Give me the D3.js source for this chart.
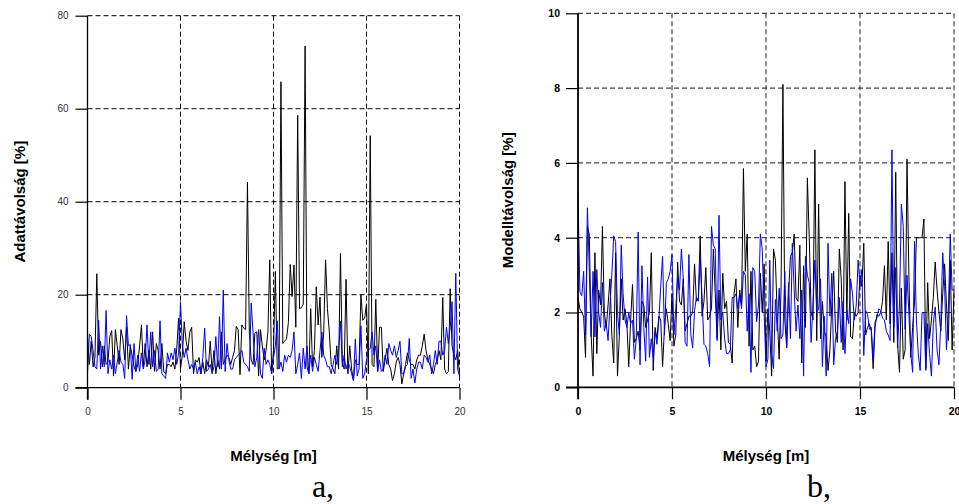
<!DOCTYPE html>
<html>
<head>
<meta charset="utf-8">
<script src="https://cdn.jsdelivr.net/npm/d3@7"></script>
<style>
  html, body { margin: 0; padding: 0; background: #fff; }
  svg { display: block; font-family: "Liberation Sans", Arial, sans-serif; }
</style>
</head>
<body>
<svg id="chart" width="959" height="504"></svg>
<script>
// Depth axis: samples every 0.1 m from 0 to 20 m
const depthStep = 0.1;
const depthTicks = [0, 5, 10, 15, 20];
const dataDistTicks = [0, 20, 40, 60, 80];
const modelDistTicks = [0, 2, 4, 6, 8, 10];

// a) data distance [%] along depth
const dataDistBlack = [
  11, 5, 10, 4.5, 6.5, 24.5, 7, 10, 4.5, 9,
  5, 5.5, 11, 12.3, 2.5, 12.5, 9, 5, 12.5, 10.5,
  6, 13, 4, 9, 7, 4.5, 3.5, 5, 9, 13.5,
  4.5, 9.5, 4.5, 8, 4, 12, 3.5, 9.5, 8, 4,
  9.5, 3.5, 3, 5, 5, 4.5, 5.5, 4, 8.5, 15,
  4, 7, 14.2, 10, 8, 12, 13, 3, 6, 5.5,
  6.5, 3, 5.5, 3, 6, 4.5, 10, 3.5, 8, 3,
  6, 4, 12, 5, 6, 7, 6.5, 5, 6.5, 8,
  13.2, 12.5, 2.8, 13.5, 12.8, 12.5, 44.2, 12, 6, 5,
  11.8, 12, 2.5, 12.5, 9, 6, 8, 12, 27.5, 3,
  8, 25, 4, 4.3, 65.8, 9.5, 10, 10.5, 14, 26.5,
  19.6, 26.4, 13, 58.6, 17, 17.2, 18, 73.5, 4.5, 3,
  17, 4.5, 8, 21.7, 13.5, 19.5, 6.5, 12, 27.5, 17,
  12, 5, 4, 3, 9, 4, 28.9, 5.5, 4, 23.3,
  3, 9, 4, 1.5, 6, 5, 5, 20, 14.5, 15,
  18, 3, 54.2, 5, 4.5, 19, 3.5, 13, 13, 3.5,
  6, 8.5, 5, 4, 1.5, 3, 5.5, 6.5, 5, 0.8,
  3, 5, 7.5, 6, 5, 5, 4, 6, 7, 7,
  9, 11.5, 8, 6, 5, 4, 3, 5, 6, 8,
  6, 19.4, 4, 3, 3.5, 21.3, 9, 7, 6, 8, 2.5
];
const dataDistBlue = [
  3, 11.5, 11, 8, 4.5, 4, 14.5, 4, 9, 4.5,
  16.6, 3, 6, 4, 7, 3, 5.5, 8, 5.5, 5,
  2, 15.5, 9, 9.3, 1.8, 9.5, 3.5, 7, 3.5, 7.5,
  4, 6, 13.5, 5, 12, 4.5, 8, 3.5, 4, 14.4,
  3, 2.5, 2, 7.5, 5.5, 7.5, 6, 8.5, 5, 7.5,
  18.5, 9, 6.5, 8.5, 6, 4, 5, 4, 5.5, 3,
  4.5, 3, 6.5, 12.8, 3.5, 4, 5, 3, 4.5, 11,
  4.5, 15.3, 4, 21, 3.5, 9.5, 6, 4, 4, 6,
  6.5, 7, 7.5, 8, 5.5, 5, 4.5, 3.5, 18.2, 12,
  4.5, 6.5, 12.5, 3, 2, 8.5, 5, 6, 5, 3,
  6.5, 9, 14.4, 4, 5.5, 3.5, 7, 5.5, 7, 6.5,
  8, 12, 3, 5, 7.5, 2, 8.5, 4, 9, 3,
  7, 3.5, 6.5, 5, 3.5, 8, 12, 7, 6, 4.5,
  4.5, 3, 5, 7, 5, 8, 14.3, 4.5, 7, 4,
  5.5, 4.5, 3, 1.5, 10.5, 2.5, 4, 13.3, 2, 3,
  6, 8, 8.5, 12, 7, 9, 3.5, 6, 3.5, 4,
  7, 5, 9.5, 8, 7, 9, 6.5, 8, 10, 3,
  3, 4.5, 5, 10.6, 2, 4, 1, 4, 5.5, 5.5,
  4, 7, 6.5, 5.5, 7, 3, 5, 8, 5, 10,
  10, 7, 8, 13, 9.5, 13, 18.5, 3, 24.6, 4, 2.5
];

// b) model distance [%] along depth
const modelDistBlack = [
  2.4, 2.1, 2.0, 1.9, 0.8, 4.3, 4.1, 1.4, 0.3, 3.6,
  0.9, 2.6, 2.2, 4.3, 2.0, 1.6, 2.2, 2.9, 1.4, 0.65,
  3.6, 0.3, 1.4, 2.9, 1.8, 2.1, 1.7, 0.55, 1.8, 2.75,
  1.2, 1.3, 1.5, 1.0, 2.3, 2.2, 1.6, 1.8, 2.0, 3.6,
  0.45, 1.6, 1.3, 1.9, 1.8, 0.55, 1.6, 2.1, 1.7, 1.25,
  2.5, 1.1, 1.4, 3.35, 2.3, 2.2, 2.9, 1.5, 1.7, 1.9,
  1.9, 2.0, 3.3, 2.3, 2.4, 4.05, 1.9, 2.3, 3.2, 1.8,
  1.9, 2.1, 3.7, 2.5, 1.3, 2.6, 1.0, 3.05, 2.1, 2.3,
  1.2, 1.15, 0.65, 2.5, 2.9, 1.6, 2.6, 2.2, 5.85, 3.1,
  4.1, 1.1, 3.1, 1.0, 1.1, 0.55, 0.7, 3.05, 2.0, 3.3,
  0.7, 2.1, 1.5, 0.3, 3.7, 3.4, 1.9, 0.75, 2.6, 8.1,
  1.8, 1.05, 2.5, 3.5, 3.6, 4.1, 2.4, 2.3, 3.8, 0.65,
  3.25, 1.6, 5.6, 4.0, 2.0, 1.8, 6.35, 1.25, 4.9, 1.3,
  2.3, 1.5, 1.35, 0.45, 1.0, 2.2, 3.1, 1.5, 1.2, 3.7,
  2.9, 1.0, 5.5, 1.8, 4.65, 1.35, 1.3, 2.0, 1.9, 2.0,
  3.0, 2.7, 3.85, 1.4, 1.6, 1.7, 1.5, 0.5, 1.6, 1.95,
  1.9, 2.0, 2.3, 3.25, 1.8, 3.9, 1.7, 3.6, 1.2, 5.75,
  1.15, 0.4, 2.65, 0.75, 1.0, 6.1, 3.0, 0.8, 1.6, 2.3,
  4.0, 4.0, 4.0, 4.0, 4.5, 0.5, 2.8, 1.3, 1.8, 2.4,
  3.35, 2.6, 2.0, 1.5, 2.5, 3.3, 2.2, 1.25, 3.4, 1.0, 2.6
];
const modelDistBlue = [
  5.2, 2.55, 2.45, 3.1, 1.4, 4.8, 3.2, 1.35, 3.1, 1.35,
  3.15, 2.0, 1.6, 2.8, 1.5, 1.7, 1.25, 2.2, 3.0, 4.05,
  3.9, 2.0, 1.4, 3.8, 2.5, 1.8, 1.6, 2.0, 1.7, 1.8,
  0.75, 1.3, 4.15, 0.6, 3.25, 1.6, 0.7, 2.95, 0.8, 1.3,
  0.8, 1.5, 1.15, 1.8, 2.7, 3.5, 1.4, 2.8, 2.9, 3.1,
  3.55, 1.4, 2.1, 2.95, 2.6, 3.7, 2.9, 1.2, 1.1, 3.55,
  1.4, 1.05, 2.05, 2.4, 2.3, 3.45, 2.4, 1.15, 1.1, 0.9,
  0.55, 4.3, 3.8, 3.7, 1.25, 4.6, 1.8, 2.0, 1.3, 0.9,
  0.9, 1.0, 2.4, 2.4, 2.5, 2.1, 2.5, 2.1, 3.1, 3.0,
  1.5, 2.5, 0.4, 3.2, 3.1, 1.75, 2.2, 4.1, 3.7, 2.0,
  0.55, 0.75, 3.4, 0.9, 0.5, 2.35, 1.5, 2.65, 1.3, 1.4,
  3.1, 1.1, 2.8, 1.3, 3.85, 2.6, 1.5, 2.2, 1.3, 2.6,
  0.3, 3.5, 3.0, 2.8, 1.2, 2.2, 3.4, 2.0, 2.1, 2.9,
  0.55, 1.9, 0.3, 3.85, 1.9, 3.05, 0.6, 1.3, 1.5, 2.4,
  1.2, 2.3, 0.9, 2.05, 1.7, 2.9, 2.5, 1.8, 2.2, 3.4,
  2.7, 3.15, 0.85, 2.05, 1.95, 1.55, 1.6, 0.75, 1.75, 1.85,
  2.1, 2.05, 1.85, 1.8, 1.5, 1.4, 1.25, 6.35, 1.6, 3.2,
  1.05, 2.2, 4.9, 4.3, 1.55, 3.0, 2.0, 0.9, 0.4, 3.9,
  1.8, 0.9, 0.45, 2.0, 2.0, 0.45, 1.7, 0.9, 0.3, 1.7,
  2.15, 1.0, 0.6, 1.75, 3.6, 2.7, 1.0, 2.0, 4.1, 2.6, 2.6
];

const depth = d3.range(dataDistBlack.length).map(i => +(i * depthStep).toFixed(1));

const panels = [
  {
    box: { left: 87.5, right: 459.5, top: 15.7, bottom: 387.7 },
    yMax: 80, yTicks: dataDistTicks,
    black: dataDistBlack, blue: dataDistBlue,
    yTitle: "Adattávolság [%]", yTitleX: 25,
    tag: "a,", tagX: 323,
    tickFont: { weight: "normal", size: 10, color: "#333" },
    grid: { color: "#000", width: 1, dash: "5,3" },
    axisWidth: 1.3, yPad: 7
  },
  {
    box: { left: 578, right: 954, top: 13.3, bottom: 387.3 },
    yMax: 10, yTicks: modelDistTicks,
    black: modelDistBlack, blue: modelDistBlue,
    yTitle: "Modelltávolság [%]", yTitleX: 513,
    tag: "b,", tagX: 819,
    tickFont: { weight: "bold", size: 10.5, color: "#000" },
    grid: { color: "#444", width: 1.2, dash: "5,3" },
    axisWidth: 1.8, yPad: 6
  }
];

const svg = d3.select("#chart");
const TICK = 12;

panels.forEach(p => {
  const b = p.box;
  const x = d3.scaleLinear().domain([0, 20]).range([b.left, b.right]);
  const y = d3.scaleLinear().domain([0, p.yMax]).range([b.bottom, b.top]);
  const g = svg.append("g");

  // dashed grid
  g.append("g").selectAll("line.h")
    .data(p.yTicks.filter(v => v > 0))
    .join("line")
    .attr("x1", b.left).attr("x2", b.right)
    .attr("y1", d => y(d)).attr("y2", d => y(d))
    .attr("stroke", p.grid.color).attr("stroke-width", p.grid.width)
    .attr("stroke-dasharray", p.grid.dash);
  g.append("g").selectAll("line.v")
    .data(depthTicks.filter(v => v > 0))
    .join("line")
    .attr("x1", d => x(d)).attr("x2", d => x(d))
    .attr("y1", b.top).attr("y2", b.bottom)
    .attr("stroke", p.grid.color).attr("stroke-width", p.grid.width)
    .attr("stroke-dasharray", p.grid.dash);

  // series
  const line = d3.line()
    .x((d, i) => x(depth[i]))
    .y(d => y(d));
  g.append("path").datum(p.black)
    .attr("fill", "none").attr("stroke", "#000").attr("stroke-width", 1)
    .attr("stroke-linejoin", "miter").attr("d", line);
  g.append("path").datum(p.blue)
    .attr("fill", "none").attr("stroke", "#0000ff").attr("stroke-width", 1)
    .attr("stroke-linejoin", "miter").attr("d", line);

  // axes
  const xAxis = g.append("g")
    .attr("transform", `translate(0,${b.bottom})`)
    .call(d3.axisBottom(x).tickValues(depthTicks).tickSize(TICK).tickPadding(8));
  const yAxis = g.append("g")
    .attr("transform", `translate(${b.left},0)`)
    .call(d3.axisLeft(y).tickValues(p.yTicks).tickSize(TICK).tickPadding(p.yPad));
  [xAxis, yAxis].forEach(ax => {
    ax.select(".domain").remove();
    ax.selectAll(".tick line").attr("stroke", "#000").attr("stroke-width", 1.2);
    ax.selectAll(".tick text")
      .attr("fill", p.tickFont.color)
      .style("font-family", '"Liberation Sans", Arial, sans-serif')
      .style("font-size", p.tickFont.size + "px")
      .style("font-weight", p.tickFont.weight);
  });

  // solid axis lines
  g.append("line")
    .attr("x1", b.left - TICK).attr("x2", b.right)
    .attr("y1", b.bottom).attr("y2", b.bottom)
    .attr("stroke", "#000").attr("stroke-width", p.axisWidth);
  g.append("line")
    .attr("x1", b.left).attr("x2", b.left)
    .attr("y1", b.top).attr("y2", b.bottom + TICK)
    .attr("stroke", "#000").attr("stroke-width", p.axisWidth);

  // titles
  g.append("text")
    .attr("x", (b.left + b.right) / 2).attr("y", 461)
    .attr("text-anchor", "middle")
    .style("font-size", "15px").style("font-weight", "bold")
    .text("Mélység [m]");
  g.append("text")
    .attr("transform", `translate(${p.yTitleX},${(b.top + b.bottom) / 2}) rotate(-90)`)
    .attr("text-anchor", "middle")
    .style("font-size", "15px").style("font-weight", "bold")
    .text(p.yTitle);
  g.append("text")
    .attr("x", p.tagX).attr("y", 497)
    .attr("text-anchor", "middle")
    .style("font-family", '"Liberation Serif", "Times New Roman", serif')
    .style("font-size", "32px")
    .text(p.tag);
});
</script>
</body>
</html>
